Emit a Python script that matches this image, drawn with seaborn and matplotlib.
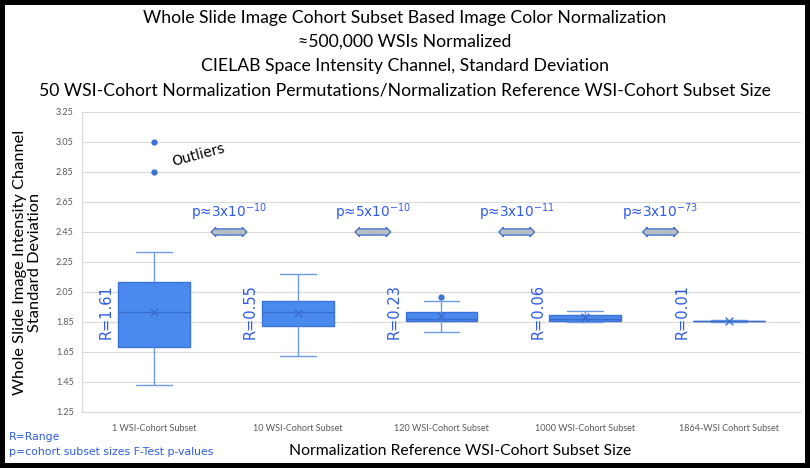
import matplotlib.pyplot as plt
import seaborn as sns
import pandas as pd
import numpy as np

# box statistics
subsets = ["1 WSI-Cohort Subset", "10 WSI-Cohort Subset", "120 WSI-Cohort Subset",
           "1000 WSI-Cohort Subset", "1864-WSI Cohort Subset"]
whisker_low = [1.43, 1.623, 1.78, 1.852, 1.853]
q1 = [1.683, 1.823, 1.858, 1.858, 1.855]
median = [1.917, 1.917, 1.872, 1.868, 1.856]
q3 = [2.117, 1.99, 1.915, 1.895, 1.858]
whisker_high = [2.317, 2.17, 1.992, 1.925, 1.862]
outliers = [[2.85, 3.05], [], [2.015], [], []]
means = [1.917, 1.907, 1.89, 1.885, 1.856]
range_labels = ["R=1.61", "R=0.55", "R=0.23", "R=0.06", "R=0.01"]
p_labels = [r"p≈3x10$^{-10}$", r"p≈5x10$^{-10}$", r"p≈3x10$^{-11}$", r"p≈3x10$^{-73}$"]

titles = ["Whole Slide Image Cohort Subset Based Image Color Normalization",
          "≈500,000 WSIs Normalized",
          "CIELAB Space Intensity Channel, Standard Deviation",
          "50 WSI-Cohort Normalization Permutations/Normalization Reference WSI-Cohort Subset Size"]

BLUE = "#4a8aee"
EDGE = "#3a72d8"
TXT = "#2e5bea"
GRID = "#dadada"


def build_samples():
    # each quartile value is repeated so the box edges land exactly on the read values
    rows = []
    for i, name in enumerate(subsets):
        vals = [whisker_low[i]] + [q1[i]] * 20 + [median[i]] * 20 + [q3[i]] * 20
        vals += [whisker_high[i]] + outliers[i]
        rows += [(name, v) for v in vals]
    return pd.DataFrame(rows, columns=["subset", "value"])


sns.set_theme(style="white")
df = build_samples()

fig = plt.figure(figsize=(8.1, 4.68), dpi=100, facecolor="white",
                 edgecolor="black", linewidth=7)
ax = fig.add_axes([0.1012, 0.1197, 0.8877, 0.641])

sns.boxplot(data=df, x="subset", y="value", ax=ax, color=BLUE, saturation=1,
            width=0.5, linecolor=EDGE, linewidth=1.0,
            whiskerprops=dict(color="#6e9be4"), capprops=dict(color="#6e9be4"),
            medianprops=dict(color="#3a6ccc"),
            flierprops=dict(marker="o", markerfacecolor=EDGE, markeredgecolor=EDGE,
                            markersize=3.5))
ax.scatter(np.arange(len(subsets)), means, marker="x", color="#3a6ccc", s=30,
           linewidths=1.0, zorder=5)

ax.set_ylim(1.25, 3.25)
ax.set_xlim(-0.5, 4.5)
ticks = np.arange(1.25, 3.26, 0.2)
ax.set_yticks(ticks)
ax.set_yticklabels([f"{t:.2f}" for t in ticks], fontsize=6.5, color="#595959", family="Lato")
ax.set_xticks(range(len(subsets)))
ax.set_xticklabels(subsets, fontsize=6.5, color="#595959", family="Lato")
ax.tick_params(axis="both", length=0, pad=6)
ax.tick_params(axis="x", pad=9)
ax.yaxis.grid(True, color=GRID, lw=0.8)
ax.set_axisbelow(True)
for s in ["top", "right"]:
    ax.spines[s].set_visible(False)
for s in ["left", "bottom"]:
    ax.spines[s].set_color(GRID)
    ax.spines[s].set_linewidth(0.8)
ax.set_xlabel("")
ax.set_ylabel("Whole Slide Image Intensity Channel\nStandard Deviation", fontsize=11.8,
              family="Lato", color="black", labelpad=10, linespacing=1.1)

# range labels beside each box
for i, lab in enumerate(range_labels):
    ax.text(i - 0.33, 1.737, lab, rotation=90, ha="center", va="bottom",
            fontsize=10.5, color=TXT)

# F-test arrows between neighbouring subsets
for i, lab in enumerate(p_labels):
    ax.text(i + 0.52, 2.45, " " * 19, fontsize=3.5, ha="center", va="center",
            bbox=dict(boxstyle="darrow,pad=0.12", fc="#b7bec6", ec="#3a6ccc", lw=0.9))
    ax.text(i + 0.52, 2.585, lab, ha="center", va="center", fontsize=9.8, color=TXT)

ax.text(0.31, 2.96, "Outliers", rotation=15, ha="center", va="center", fontsize=10,
        color="black")

for k, t in enumerate(titles):
    fig.text(0.5, 1 - (18 + 24 * k) / 468, t, ha="center", va="center",
             fontsize=12.7, family="Lato", color="black")

fig.text(460 / 810, 1 - 451 / 468, "Normalization Reference WSI-Cohort Subset Size",
         ha="center", va="center", fontsize=11.3, family="Lato", color="black")
fig.text(9 / 810, 1 - 437 / 468, "R=Range", ha="left", va="center", fontsize=7.8, color=TXT)
fig.text(9 / 810, 1 - 452 / 468, "p=cohort subset sizes F-Test p-values", ha="left",
         va="center", fontsize=7.8, color=TXT)

fig.savefig("out.png", dpi=100, facecolor="white", edgecolor="black")
